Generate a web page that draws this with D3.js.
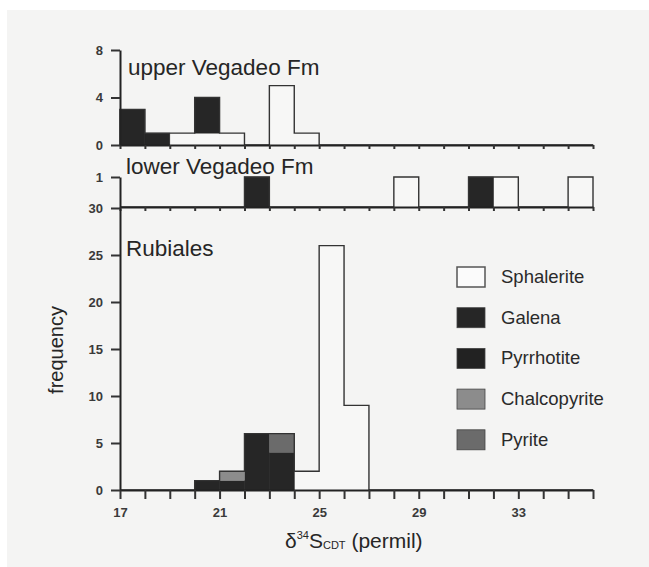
<!DOCTYPE html>
<html><head><meta charset="utf-8">
<script src="https://cdn.jsdelivr.net/npm/d3@7"></script>
<style>html,body{margin:0;padding:0;background:#fff;}svg{display:block;}</style>
</head><body>
<svg id="chart" width="649" height="567"></svg>
<script>
// ---- data ----
const minerals = ["Sphalerite", "Galena", "Pyrrhotite", "Chalcopyrite", "Pyrite"];
const binStarts = [17,18,19,20,21,22,23,24,25,26,27,28,29,30,31,32,33,34,35];
// counts per 1-permil bin, aligned with binStarts
const upperSphalerite   = [0,0,1,1,1,0,5,1,0,0,0,0,0,0,0,0,0,0,0];
const upperGalena       = [3,1,0,3,0,0,0,0,0,0,0,0,0,0,0,0,0,0,0];
const lowerSphalerite   = [0,0,0,0,0,0,0,0,0,0,0,1,0,0,0,1,0,0,1];
const lowerGalena       = [0,0,0,0,0,1,0,0,0,0,0,0,0,0,1,0,0,0,0];
const rubSphalerite     = [0,0,0,0,0,0,0,2,26,9,0,0,0,0,0,0,0,0,0];
const rubGalena         = [0,0,0,1,1,6,4,0,0,0,0,0,0,0,0,0,0,0,0];
const rubChalcopyrite   = [0,0,0,0,1,0,0,0,0,0,0,0,0,0,0,0,0,0,0];
const rubPyrite         = [0,0,0,0,0,0,2,0,0,0,0,0,0,0,0,0,0,0,0];
const zeros             = binStarts.map(() => 0);
const panelNames = ["upper Vegadeo Fm", "lower Vegadeo Fm", "Rubiales"];
const upperTicks = [0, 4, 8];
const lowerTicks = [1];
const rubTicks = [0, 5, 10, 15, 20, 25, 30];
const xTickLabels = [17, 21, 25, 29, 33];
const xTitle = {delta: "δ", sup: "34", main: "S", sub: "CDT", tail: " (permil)"};
const yTitle = "frequency";

const colors = {Sphalerite: "#f7f7f6", Galena: "#262626", Pyrrhotite: "#222222", Chalcopyrite: "#8c8c8c", Pyrite: "#6b6b6b"};

function table(sph, gal, pyr, cha, pyt) {
  return binStarts.map((b, i) => ({bin: b, Sphalerite: sph[i], Galena: gal[i], Pyrrhotite: pyr[i], Chalcopyrite: cha[i], Pyrite: pyt[i]}));
}
const panels = [
  {name: panelNames[0], rows: table(upperSphalerite, upperGalena, zeros, zeros, zeros), domain: [0, 8], range: [145, 50], ticks: upperTicks, tickLen: 4, labels: false, tx: 128, ty: 75},
  {name: panelNames[1], rows: table(lowerSphalerite, lowerGalena, zeros, zeros, zeros), domain: [0, 1], range: [207, 177], ticks: lowerTicks, tickLen: 4, labels: false, tx: 126, ty: 174},
  {name: panelNames[2], rows: table(rubSphalerite, rubGalena, zeros, rubChalcopyrite, rubPyrite), domain: [0, 30], range: [490, 208], ticks: rubTicks, tickLen: 9, labels: true, tx: 126, ty: 256}
];

const svg = d3.select("#chart");
svg.append("rect").attr("x", 7).attr("y", 10).attr("width", 642).attr("height", 557).attr("fill", "#f4f4f3");

const font = "'Liberation Sans', Arial, sans-serif";
const x = d3.scaleLinear().domain([17, 36]).range([120, 593]);
const stack = d3.stack().keys(minerals);

panels.forEach((p, pi) => {
  const y = d3.scaleLinear().domain(p.domain).range(p.range);
  const g = svg.append("g");
  const series = stack(p.rows);
  series.forEach(s => {
    g.selectAll(null).data(s.filter(d => d[1] > d[0])).enter().append("rect")
      .attr("x", d => x(d.data.bin))
      .attr("width", d => x(d.data.bin + 1) - x(d.data.bin))
      .attr("y", d => y(d[1]))
      .attr("height", d => y(d[0]) - y(d[1]))
      .attr("fill", colors[s.key])
      .attr("stroke", s.key === "Sphalerite" ? "none" : colors[s.key]).attr("stroke-width", 0.6);
  });
  // outline envelope
  const totals = p.rows.map(r => ({bin: r.bin, t: d3.sum(minerals, k => r[k])}));
  const pts = [[17, 0]].concat(totals.map(d => [d.bin, d.t])).concat([[36, 0]]);
  g.append("path").datum(pts)
    .attr("d", d3.line().x(d => x(d[0])).y(d => y(d[1])).curve(d3.curveStepAfter))
    .attr("fill", "none").attr("stroke", "#333").attr("stroke-width", 1.4);

  // x axis
  const xa = d3.axisBottom(x).tickValues(d3.range(17, 37)).tickSize(p.tickLen).tickSizeOuter(0)
    .tickFormat(d => (p.labels && xTickLabels.includes(d)) ? d : "").tickPadding(9);
  const xg = svg.append("g").attr("transform", `translate(0,${y(0)})`).call(xa);
  xg.select(".domain").attr("stroke", "#222").attr("stroke-width", 2);
  xg.selectAll(".tick line").attr("stroke", "#333").attr("stroke-width", 2);
  xg.selectAll(".tick text").attr("font-family", font).attr("font-size", 13).attr("font-weight", "bold").attr("fill", "#3a3a3a");

  // y axis
  const ya = d3.axisLeft(y).tickValues(p.ticks).tickSize(9).tickSizeOuter(0).tickPadding(8).tickFormat(d3.format("d"));
  const yg = svg.append("g").attr("transform", `translate(120,0)`).call(ya);
  yg.select(".domain").attr("stroke", "#222").attr("stroke-width", 2);
  yg.selectAll(".tick line").attr("stroke", "#333").attr("stroke-width", 2);
  yg.selectAll(".tick text").attr("font-family", font).attr("font-size", 13).attr("font-weight", "bold").attr("fill", "#3a3a3a");

  svg.append("text").attr("x", p.tx).attr("y", p.ty).text(p.name)
    .attr("font-family", font).attr("font-size", 22.5).attr("fill", "#262626");
});

// legend
const lg = svg.append("g");
minerals.forEach((m, i) => {
  const yy = 267 + i * 40.7;
  lg.append("rect").attr("x", 457).attr("y", yy).attr("width", 28).attr("height", 20)
    .attr("fill", m === "Sphalerite" ? "#fbfbfb" : colors[m])
    .attr("stroke", m === "Sphalerite" ? "#555" : "#444").attr("stroke-width", m === "Sphalerite" ? 1.5 : 0.8);
  lg.append("text").attr("x", 501).attr("y", yy + 16).text(m)
    .attr("font-family", font).attr("font-size", 18.5).attr("fill", "#2a2a2a");
});

// axis titles
const xt = svg.append("text").attr("x", 285).attr("y", 548).attr("font-family", font).attr("font-size", 21).attr("fill", "#262626");
xt.append("tspan").text(xTitle.delta);
xt.append("tspan").text(xTitle.sup).attr("font-size", 11).attr("dy", -9);
xt.append("tspan").text(xTitle.main).attr("dy", 9);
xt.append("tspan").text(xTitle.sub).attr("font-size", 11).attr("dy", 1);
xt.append("tspan").text(xTitle.tail).attr("dy", -1);

svg.append("text").attr("transform", "translate(63,350) rotate(-90)").attr("text-anchor", "middle")
  .text(yTitle).attr("font-family", font).attr("font-size", 20).attr("fill", "#262626");
</script>
</body></html>
